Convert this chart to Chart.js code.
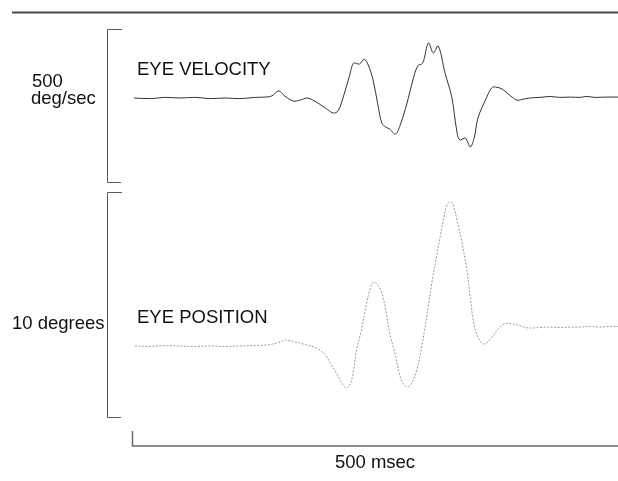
<!DOCTYPE html>
<html>
<head>
<meta charset="utf-8">
<script src="https://cdn.jsdelivr.net/npm/chart.js@4.4.1/dist/chart.umd.min.js"></script>
<style>
  html, body { margin: 0; padding: 0; background: #fff; }
  #box { width: 618px; height: 481px; position: relative; }
</style>
</head>
<body>
<div id="box"><canvas id="grafico"></canvas></div>
<script>
// eye velocity trace: time (msec) / velocity (deg/sec)
const velTime = [2, 19, 34, 49, 65, 80, 96, 111, 127, 137, 144, 151, 157, 166, 173, 180, 188, 199, 207, 212,
  218, 224, 228, 234, 239, 243, 248, 253, 257, 261, 265, 271, 276, 283, 289, 294, 299, 305, 310, 315,
  322, 329, 334, 337, 343, 348, 352, 356, 365, 370, 374, 381, 386, 391, 396, 401, 409, 420, 430, 440,
  451, 461, 468, 476, 487, 500];
const velocity = [0, -2, 2, 0, 2, -2, 0, -2, 2, 3, 7, 23, 7, -10, -7, 0, -10, -33, -49, -42,
  10, 75, 114, 111, 127, 108, 59, -23, -82, -95, -101, -118, -88, -16, 59, 105, 114, 180, 147, 170,
  82, 3, -105, -137, -131, -160, -131, -65, 3, 33, 36, 29, 16, 3, -7, -5, 0, 2, 5, 2,
  3, 2, 5, 2, 3, 3];

// eye position trace: time (msec) / position (degrees)
const posTime = [3, 19, 34, 49, 65, 80, 96, 111, 127, 137, 149, 155, 159, 166, 173, 180, 187, 193, 199, 204,
  209, 214, 218, 221, 225, 228, 231, 236, 240, 244, 247, 249, 252, 257, 261, 265, 271, 276, 280, 284,
  288, 293, 297, 301, 305, 309, 313, 317, 321, 324, 327, 330, 335, 340, 345, 348, 351, 355, 359, 363,
  368, 376, 381, 386, 391, 397, 403, 409, 420, 430, 440, 451, 461, 471, 481, 492, 500];
const position = [0, -0.02, 0.02, 0, -0.02, 0, -0.02, 0, 0.02, 0.04, 0.13, 0.22, 0.27, 0.2, 0.13, 0.04, -0.04, -0.18, -0.4, -0.76,
  -1.11, -1.51, -1.78, -1.87, -1.64, -1.07, -0.18, 0.71, 1.6, 2.4, 2.76, 2.84, 2.76, 2.36, 1.6, 0.58, -0.4, -1.38, -1.73, -1.82,
  -1.64, -1.07, -0.27, 0.71, 1.82, 2.93, 3.91, 4.84, 5.73, 6.27, 6.4, 6.31, 5.47, 4.49, 3.24, 2.18, 1.16, 0.49, 0.18, 0.09,
  0.27, 0.71, 0.93, 1.02, 0.98, 0.93, 0.84, 0.8, 0.82, 0.84, 0.82, 0.84, 0.84, 0.87, 0.84, 0.87, 0.87];

// scale bars
const velBar = [-275, 225];   // 500 deg/sec
const posBar = [-3.16, 6.84]; // 10 degrees
const timeBar = [0, 500];     // 500 msec

const FONTE = '18.5px "Liberation Sans", Arial, Helvetica, sans-serif';
const ALTURA = 481;

// limites do eixo a partir do pixel do zero e da escala em px por unidade
function faixa(zeroPx, pxPorUnidade) {
  return { min: -(ALTURA - zeroPx) / pxPorUnidade, max: zeroPx / pxPorUnidade };
}
const faixaVel = faixa(98, 153 / 500);
const faixaPos = faixa(346, 225 / 10);

function pares(xs, ys) {
  return xs.map((x, i) => ({ x: x, y: ys[i] }));
}

const moldura = {
  id: 'moldura',
  afterDraw(chart) {
    const ctx = chart.ctx;
    const sx = chart.scales.x, sv = chart.scales.yVel, sp = chart.scales.yPos;
    ctx.save();

    // linha no topo
    ctx.strokeStyle = '#4a4a4a';
    ctx.lineWidth = 2;
    ctx.beginPath();
    ctx.moveTo(12, 12.5);
    ctx.lineTo(618, 12.5);
    ctx.stroke();

    // colchetes de escala
    ctx.strokeStyle = '#5a5a5a';
    ctx.lineWidth = 1;
    const colchete = (a, b) => {
      ctx.beginPath();
      ctx.moveTo(122, a + 0.5);
      ctx.lineTo(107.5, a + 0.5);
      ctx.lineTo(107.5, b + 0.5);
      ctx.lineTo(121, b + 0.5);
      ctx.stroke();
    };
    colchete(Math.round(sv.getPixelForValue(velBar[1])), Math.round(sv.getPixelForValue(velBar[0])));
    colchete(Math.round(sp.getPixelForValue(posBar[1])), Math.round(sp.getPixelForValue(posBar[0])));

    // barra de tempo
    const t0 = sx.getPixelForValue(timeBar[0]);
    const t1 = sx.getPixelForValue(timeBar[1]);
    ctx.strokeStyle = '#6a6a6a';
    ctx.lineWidth = 1.5;
    ctx.beginPath();
    ctx.moveTo(t0 + 0.5, 431);
    ctx.lineTo(t0 + 0.5, 446);
    ctx.lineTo(t1, 446);
    ctx.stroke();

    // textos
    ctx.fillStyle = '#111';
    ctx.font = FONTE;
    ctx.textBaseline = 'alphabetic';
    ctx.textAlign = 'left';
    ctx.fillText('500', 32, 87);
    ctx.fillText('deg/sec', 31, 104);
    ctx.fillText('EYE VELOCITY', 137, 75);
    ctx.fillText('10 degrees', 12, 329);
    ctx.fillText('EYE POSITION', 137, 323);
    ctx.textAlign = 'center';
    ctx.fillText('500 msec', (t0 + t1) / 2, 468);
    ctx.restore();
  }
};

function montar_grafico() {
  const el = document.getElementById('grafico');
  new Chart(el, {
    type: 'line',
    data: {
      datasets: [
        {
          label: 'EYE VELOCITY',
          data: pares(velTime, velocity),
          yAxisID: 'yVel',
          borderColor: '#333',
          borderWidth: 1,
          pointRadius: 0,
          tension: 0.35,
          fill: false
        },
        {
          label: 'EYE POSITION',
          data: pares(posTime, position),
          yAxisID: 'yPos',
          borderColor: '#9a9a9a',
          borderWidth: 1,
          borderDash: [2, 1.5],
          pointRadius: 0,
          tension: 0.35,
          fill: false
        }
      ]
    },
    options: {
      responsive: true,
      maintainAspectRatio: false,
      animation: false,
      events: [],
      layout: { padding: { left: 132, right: 0, top: 0, bottom: 0 } },
      scales: {
        x: { type: 'linear', min: 0, max: 500, display: false },
        yVel: { type: 'linear', min: faixaVel.min, max: faixaVel.max, display: false },
        yPos: { type: 'linear', min: faixaPos.min, max: faixaPos.max, display: false }
      },
      plugins: {
        legend: { display: false },
        tooltip: { enabled: false }
      }
    },
    plugins: [moldura]
  });
}

montar_grafico();
</script>
</body>
</html>
